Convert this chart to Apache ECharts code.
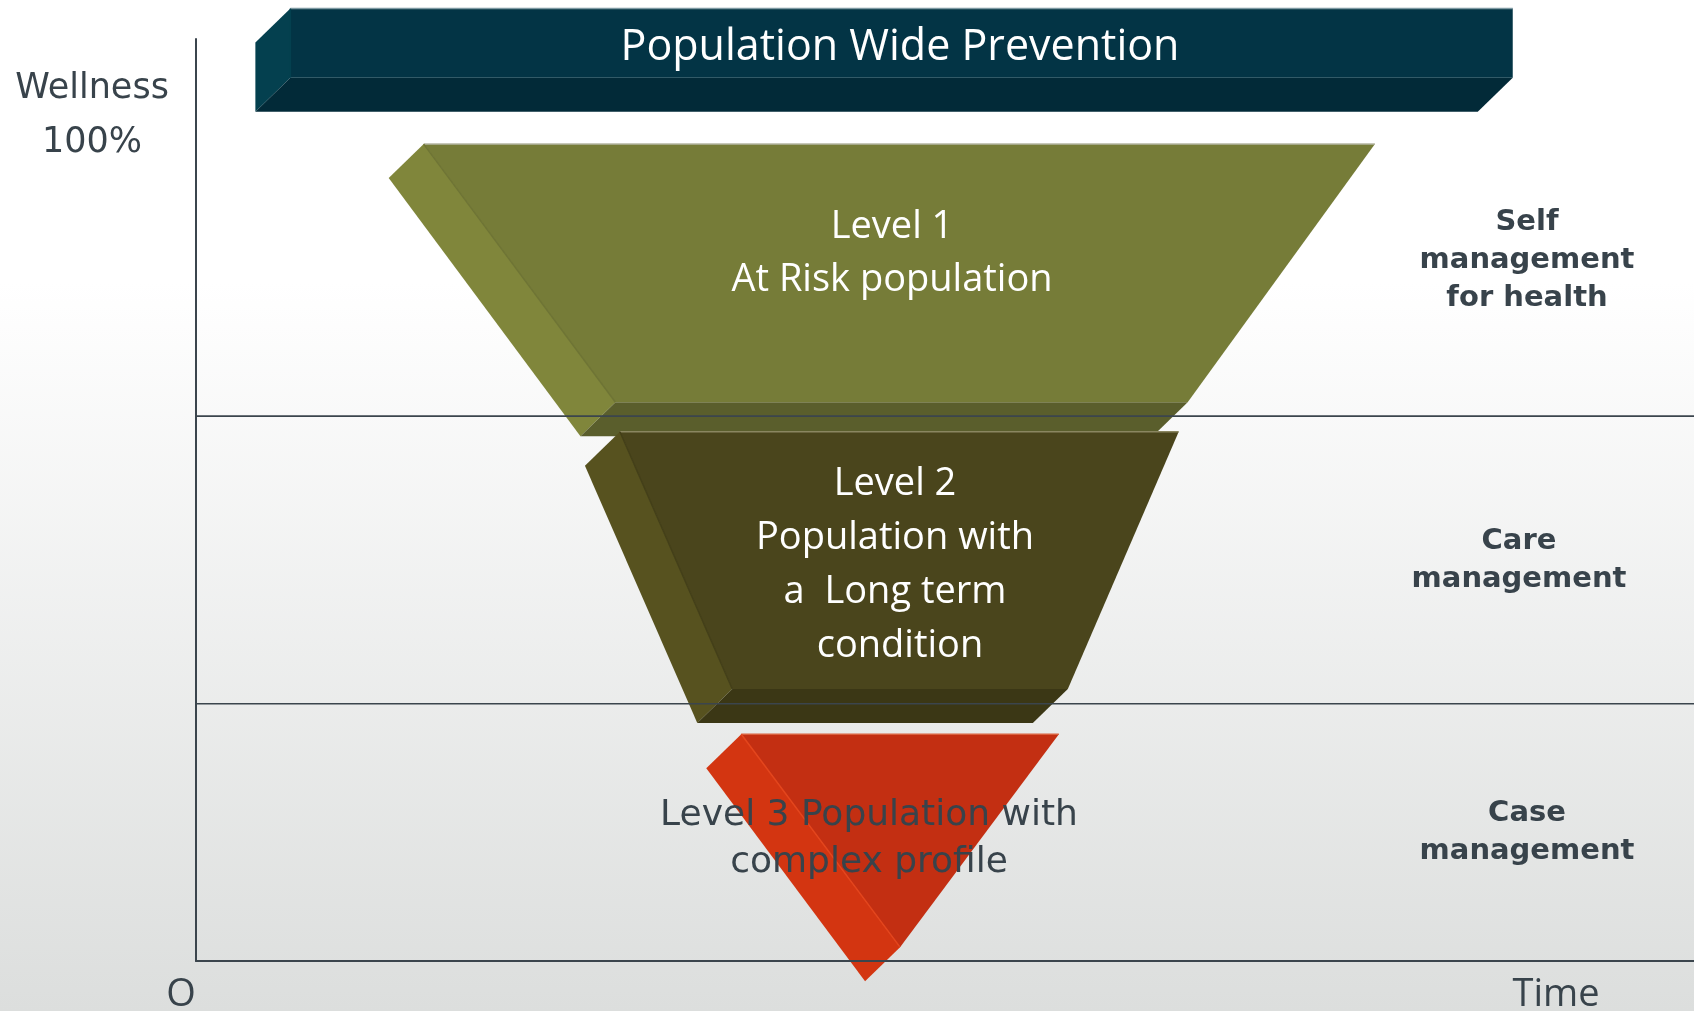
<!DOCTYPE html>
<html>
<head>
<meta charset="utf-8">
<script src="https://cdn.jsdelivr.net/npm/echarts@6/dist/echarts.min.js"></script>
<style>
  html, body { margin: 0; padding: 0; }
  #chart { width: 1694px; height: 1011px; }
</style>
</head>
<body>
<div id="chart"></div>
<script>
// wellness pyramid - shapes are read in axis units (x: time 0-100, y: wellness 0-100)
var levels = ['Population Wide Prevention', 'Level 1', 'Level 2', 'Level 3'];
var topValue = [103.3, 88.6, 57.4, 24.6];
var bottomValue = [95.8, 60.6, 29.5, 1.5];
var topFrom = [6.3, 15.2, 28.3, 36.4];
var topTo = [87.9, 78.7, 65.6, 57.6];
var bottomFrom = [6.3, 28.0, 35.8, 47.0];
var bottomTo = [87.9, 66.2, 58.2, 47.0];
var bandLines = [59.1, 27.9];

var faceColors = [
	{front: '#033445', side: '#04404f', bottom: '#022a38', edge: '#7f9aa3', seam: '#04404f'},
	{front: '#767c38', side: '#80863b', bottom: '#5a5e2c', edge: '#b4b6a2', seam: '#6e7434'},
	{front: '#4a451c', side: '#57521f', bottom: '#3b3715', edge: '#8a8660', seam: '#433f18'},
	{front: '#c32f12', side: '#d33511', bottom: '#c32f12', edge: '#d9613e', seam: '#e4451c'}
];
var depth = [-35, 34];

var darkText = '#38434b';

var myChart = echarts.init(document.getElementById('chart'));

function shift(p) {
	return [p[0] + depth[0], p[1] + depth[1]];
}

function renderBlock(params, api) {
	var tl = api.coord([api.value(0), api.value(4)]);
	var tr = api.coord([api.value(1), api.value(4)]);
	var bl = api.coord([api.value(2), api.value(5)]);
	var br = api.coord([api.value(3), api.value(5)]);
	var c = faceColors[params.dataIndex];
	return {
		type: 'group',
		children: [
			{type: 'polygon', shape: {points: [shift(tl), tl, bl, shift(bl)]}, style: {fill: c.side}},
			{type: 'polygon', shape: {points: [bl, br, shift(br), shift(bl)]}, style: {fill: c.bottom}},
			{type: 'polygon', shape: {points: [tl, tr, br, bl]}, style: {fill: c.front}},
			{type: 'line', shape: {x1: tl[0], y1: tl[1], x2: tr[0], y2: tr[1]}, style: {stroke: c.edge, lineWidth: 1.5}},
			{type: 'line', shape: {x1: tl[0], y1: tl[1], x2: bl[0], y2: bl[1]}, style: {stroke: c.seam, lineWidth: 1.5}}
		]
	};
}

function renderBand(params, api) {
	var a = api.coord([0, api.value(1)]);
	var b = api.coord([100, api.value(1)]);
	return {
		type: 'line',
		shape: {x1: a[0], y1: a[1], x2: b[0], y2: b[1]},
		style: {stroke: '#3b454d', lineWidth: 1.6}
	};
}

function txt(text, x, y, font, color, lh) {
	return {
		type: 'text', x: x, y: y, z: 100,
		style: {
			text: text, font: font, fill: color,
			textAlign: 'center', textVerticalAlign: 'middle',
			lineHeight: lh || 40
		}
	};
}

var option = {
	animation: false,
	grid: {left: 196, top: 39, right: 0, bottom: 50},
	xAxis: {
		type: 'value', min: 0, max: 100, z: 10,
		axisLine: {show: true, lineStyle: {color: '#3b454d', width: 2}},
		axisTick: {show: false}, axisLabel: {show: false}, splitLine: {show: false}
	},
	yAxis: {
		type: 'value', min: 0, max: 100, z: 10,
		axisLine: {show: true, lineStyle: {color: '#3b454d', width: 2}},
		axisTick: {show: false}, axisLabel: {show: false}, splitLine: {show: false}
	},
	graphic: {
		elements: [
			{
				type: 'rect', z: -10, silent: true,
				shape: {x: 0, y: 0, width: 1694, height: 1011},
				style: {
					fill: new echarts.graphic.LinearGradient(0, 0, 0, 1, [
						{offset: 0, color: '#ffffff'},
						{offset: 0.28, color: '#ffffff'},
						{offset: 1, color: '#dcdedd'}
					])
				}
			},
			txt(levels[0], 900, 48, '43px "Open Sans"', '#ffffff'),
			txt(levels[1] + '\nAt Risk population', 892, 254, '38px "Open Sans"', '#ffffff', 53),
			txt(levels[2] + '\nPopulation with\na  Long term\n condition', 895, 565, '38px "Open Sans"', '#ffffff', 54),
			txt(levels[3] + ' Population with\ncomplex profile', 869, 839, '36px "DejaVu Sans"', darkText, 47),
			txt('Self\nmanagement\nfor health', 1527, 260, 'bold 29px "DejaVu Sans"', darkText, 38),
			txt('Care\nmanagement', 1519, 560, 'bold 29px "DejaVu Sans"', darkText, 38),
			txt('Case\nmanagement', 1527, 832, 'bold 29px "DejaVu Sans"', darkText, 38),
			txt('Wellness\n100%', 92, 116, '35px "DejaVu Sans"', darkText, 54),
			txt('O', 181, 995, '38px "Open Sans"', darkText),
			txt('Time', 1556, 995, '38px "Open Sans"', darkText)
		]
	},
	series: [
		{
			type: 'custom',
			name: 'levels',
			z: 2,
			renderItem: renderBlock,
			encode: {x: [0, 1, 2, 3], y: [4, 5]},
			data: levels.map(function(n, i) {
				return [topFrom[i], topTo[i], bottomFrom[i], bottomTo[i], topValue[i], bottomValue[i]];
			})
		},
		{
			type: 'custom',
			name: 'bands',
			z: 5,
			renderItem: renderBand,
			encode: {x: 0, y: 1},
			data: bandLines.map(function(v) { return [0, v]; })
		}
	]
};

myChart.setOption(option);
</script>
</body>
</html>
